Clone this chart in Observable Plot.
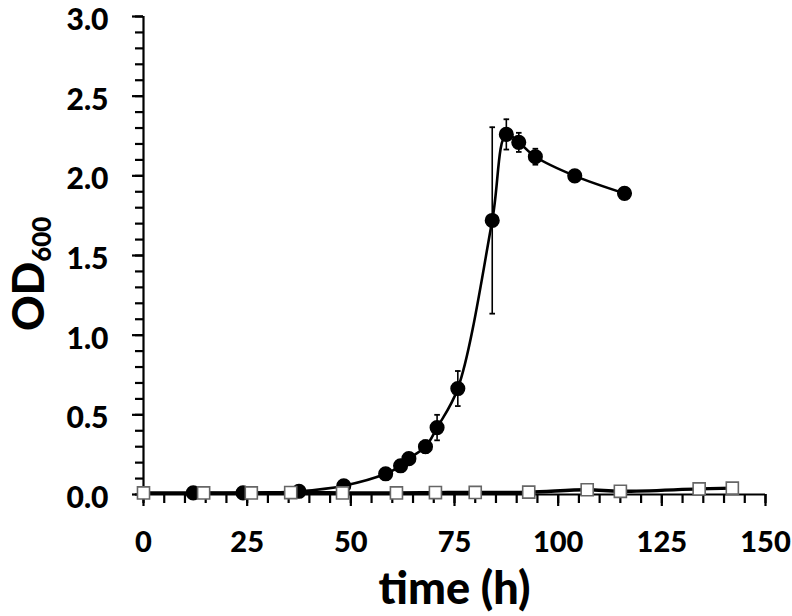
<!DOCTYPE html>
<html>
<head>
<meta charset="utf-8">
<script src="https://cdn.jsdelivr.net/npm/d3@7"></script>
<script src="https://cdn.jsdelivr.net/npm/@observablehq/plot@0.6"></script>
<style>
  html, body { margin: 0; padding: 0; background: #fff; }
  #chart { position: relative; width: 792px; height: 616px; }
</style>
</head>
<body>
<div id="chart"></div>
<script>
// Filled circles series
const circleTime = [12, 24, 37.5, 48.3, 58.4, 62, 64, 68, 70.8, 75.8, 84.1, 87.5, 90.5, 94.5, 104, 116];
const circleOD   = [0.01, 0.01, 0.02, 0.055, 0.13, 0.18, 0.225, 0.30, 0.42, 0.665, 1.72, 2.26, 2.21, 2.12, 2.00, 1.89];
const circleErr  = [0.005, 0.005, 0.005, 0.01, 0.02, 0.02, 0.02, 0.04, 0.08, 0.11, 0.585, 0.095, 0.06, 0.05, 0.01, 0.02];

// Open squares series
const squareTime = [0, 14.5, 26, 35.5, 48, 61, 70.4, 80, 92.9, 107, 115, 134, 142];
const squareOD   = [0.01, 0.01, 0.01, 0.012, 0.01, 0.01, 0.012, 0.013, 0.015, 0.03, 0.02, 0.035, 0.04];

const yMinorTicks = [0,0.1,0.2,0.3,0.4,0.5,0.6,0.7,0.8,0.9,1.0,1.1,1.2,1.3,1.4,1.5,1.6,1.7,1.8,1.9,2.0,2.1,2.2,2.3,2.4,2.5,2.6,2.7,2.8,2.9,3.0];
const yMajorTicks = [0, 0.5, 1.0, 1.5, 2.0, 2.5, 3.0];
const xMinorTicks = [0,5,10,15,20,25,30,35,40,45,50,55,60,65,70,75,80,85,90,95,100,105,110,115,120,125,130,135,140,145,150];
const xMajorTicks = [0, 25, 50, 75, 100, 125, 150];

const circles = circleTime.map((t, i) => ({t, od: circleOD[i], err: circleErr[i]}));
const squares = squareTime.map((t, i) => ({t, od: squareOD[i]}));

const cap = { draw(context, size) { const w = 2.8; context.moveTo(-w, 0); context.lineTo(w, 0); } };

const font = "Lato, 'Open Sans', sans-serif";

const plot = Plot.plot({
  width: 792,
  height: 616,
  marginLeft: 143,
  marginRight: 27,
  marginTop: 16,
  marginBottom: 122,
  style: { fontFamily: font, fontWeight: 900, fontSize: "24px", color: "#000", background: "#fff" },
  x: { domain: [0, 150] },
  y: { domain: [0, 3] },
  marks: [
    Plot.axisY({ ticks: yMinorTicks, tickSize: 8, tickFormat: () => "", strokeWidth: 2.2, label: null }),
    Plot.axisY({ ticks: yMajorTicks, tickSize: 11, tickFormat: () => "", strokeWidth: 2.2, label: null }),
    Plot.axisY({ ticks: yMajorTicks, tickSize: 0, tickPadding: 35, dy: 4, tickFormat: d3.format(".1f"), label: null, fontSize: 30, fontWeight: 900 }),
    Plot.axisX({ ticks: xMinorTicks, tickSize: 9, tickFormat: () => "", strokeWidth: 2.2, label: null }),
    Plot.axisX({ ticks: xMajorTicks, tickSize: 12, tickPadding: 25, tickFormat: d => d, strokeWidth: 2.2, label: null, fontSize: 29, fontWeight: 900 }),
    Plot.ruleY([0], { strokeWidth: 2.2, stroke: "#000" }),
    Plot.ruleX([0], { strokeWidth: 2.2, stroke: "#000" }),
    // error bars
    Plot.ruleX(circles, { x: "t", y1: d => d.od - d.err, y2: d => d.od + d.err, stroke: "#000", strokeWidth: 1.6 }),
    Plot.dot(circles, { x: "t", y: d => d.od + d.err, symbol: cap, stroke: "#000", strokeWidth: 1.8, r: 3 }),
    Plot.dot(circles, { x: "t", y: d => d.od - d.err, symbol: cap, stroke: "#000", strokeWidth: 1.8, r: 3 }),
    Plot.line(circles, { x: "t", y: "od", curve: "catmull-rom", stroke: "#000", strokeWidth: 2.6 }),
    Plot.dot(circles, { x: "t", y: "od", r: 6.8, fill: "#000", stroke: "#000" }),
    Plot.line(squares, { x: "t", y: "od", curve: "catmull-rom", stroke: "#000", strokeWidth: 3.4 }),
    Plot.dot(squares, { x: "t", y: "od", symbol: "square", r: 6.8, fill: "#fff", stroke: "#666", strokeWidth: 1.6 }),
    Plot.text(["time (h)"], { frameAnchor: "bottom", dy: 109, text: d => d, fontSize: 45, fontWeight: 900 })
  ]
});
document.getElementById("chart").appendChild(plot);

// Y label with subscript, rotated
const svg = d3.select(plot);
const yl = svg.append("text")
  .attr("transform", "translate(44,331) rotate(-90)")
  .attr("text-anchor", "start")
  .attr("font-family", font)
  .attr("font-weight", 900)
  .attr("font-size", 44)
  .attr("fill", "#000");
yl.append("tspan").text("OD");
yl.append("tspan").attr("font-size", 26).attr("dy", 7).text("600");
</script>
</body>
</html>
